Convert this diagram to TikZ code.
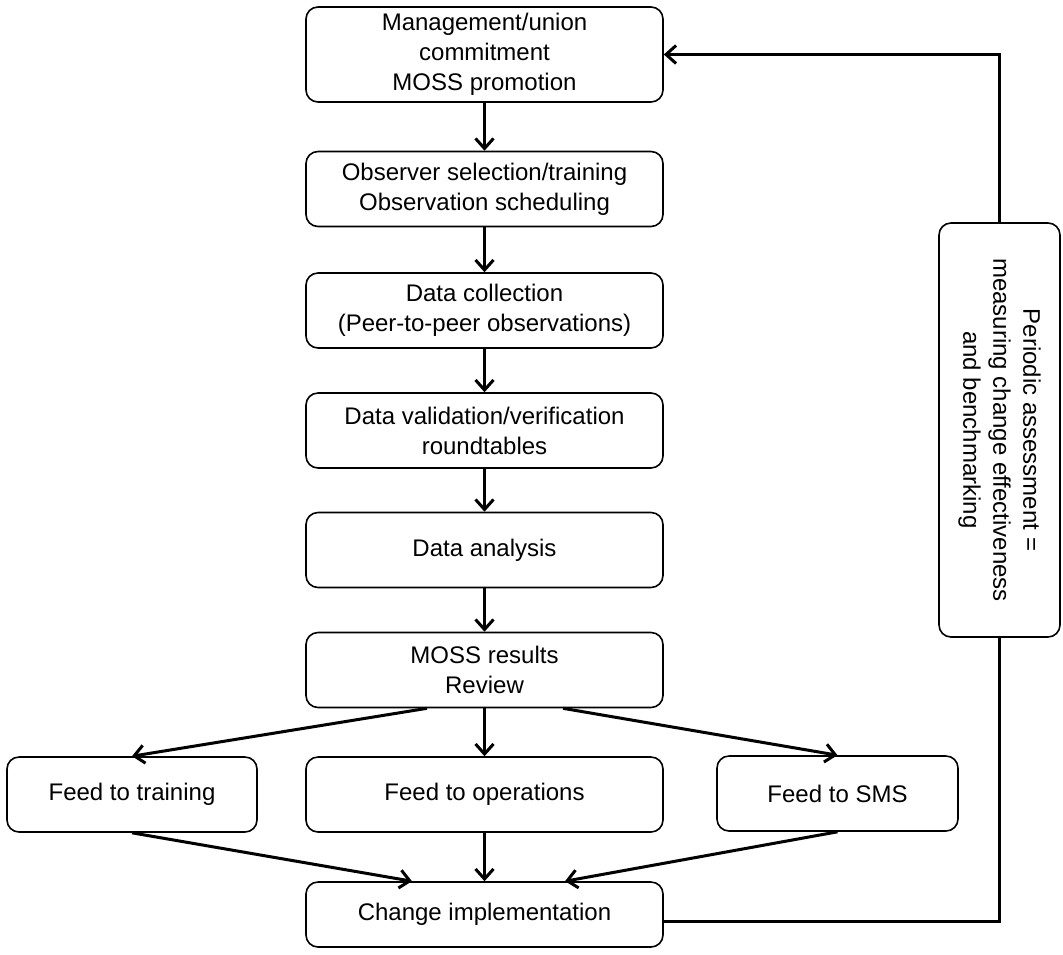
\documentclass[tikz,border=0pt]{standalone}
\usepackage{fontspec}
\setmainfont{Liberation Sans}
\usetikzlibrary{arrows.meta}
\begin{document}
\begin{tikzpicture}[x=0.5pt, y=-0.5pt,
        stage/.style={draw, rounded corners=6pt, line width=0.8pt, align=center, inner sep=0pt,
            minimum width=178.5pt, minimum height=37.5pt, font=\fontsize{12}{15}\selectfont},
        flow/.style={-{Straight Barb[length=5pt,width=9pt]}, line width=1.5pt},
        loop/.style={line width=1.5pt}]
        \useasboundingbox (0,0) rectangle (1063,954);
        \node[stage, minimum height=47.5pt] (mgmt) at (484.5,54.5) {Management/union\\commitment\\MOSS promotion};
        \node[stage] (obs) at (484.5,189) {Observer selection/training\\Observation scheduling};
        \node[stage] (coll) at (484.5,310.5) {Data collection\\(Peer-to-peer observations)};
        \node[stage] (valid) at (484.5,430.5) {Data validation/verification\\roundtables};
        \node[stage] (anal) at (484.5,550) {Data analysis};
        \node[stage] (moss) at (484.5,670) {MOSS results\\Review};
        \node[stage, minimum width=125pt] (train) at (132,794.5) {Feed to training};
        \node[stage] (ops) at (484.5,794.5) {Feed to operations};
        \node[stage, minimum width=120.5pt] (sms) at (837.5,793.5) {Feed to SMS};
        \node[stage, minimum height=32.5pt] (change) at (484.5,914.5) {Change implementation};
        % rotated box: west is its top, east its bottom
        \node[stage, rotate=-90, minimum width=207pt, minimum height=60.5pt] (per) at (999.5,430)
            {Periodic assessment =\\measuring change effectiveness\\and benchmarking};
        \draw[flow] (mgmt.south) -- (obs.north);
        \draw[flow] (obs.south) -- (coll.north);
        \draw[flow] (coll.south) -- (valid.north);
        \draw[flow] (valid.south) -- (anal.north);
        \draw[flow] (anal.south) -- (moss.north);
        \draw[flow] ([xshift=-28.75pt]moss.south) -- (train.north);
        \draw[flow] (moss.south) -- (ops.north);
        \draw[flow] ([xshift=39.25pt]moss.south) -- (sms.north);
        \draw[flow] (train.south) -- ([xshift=-36.25pt]change.north);
        \draw[flow] (ops.south) -- (change.north);
        \draw[flow] (sms.south) -- ([xshift=40.25pt]change.north);
        \draw[loop] ([yshift=-3.25pt]change.east) -| (per.east);
        \draw[flow] (per.west) |- (mgmt.east);
    \end{tikzpicture}
\end{document}
